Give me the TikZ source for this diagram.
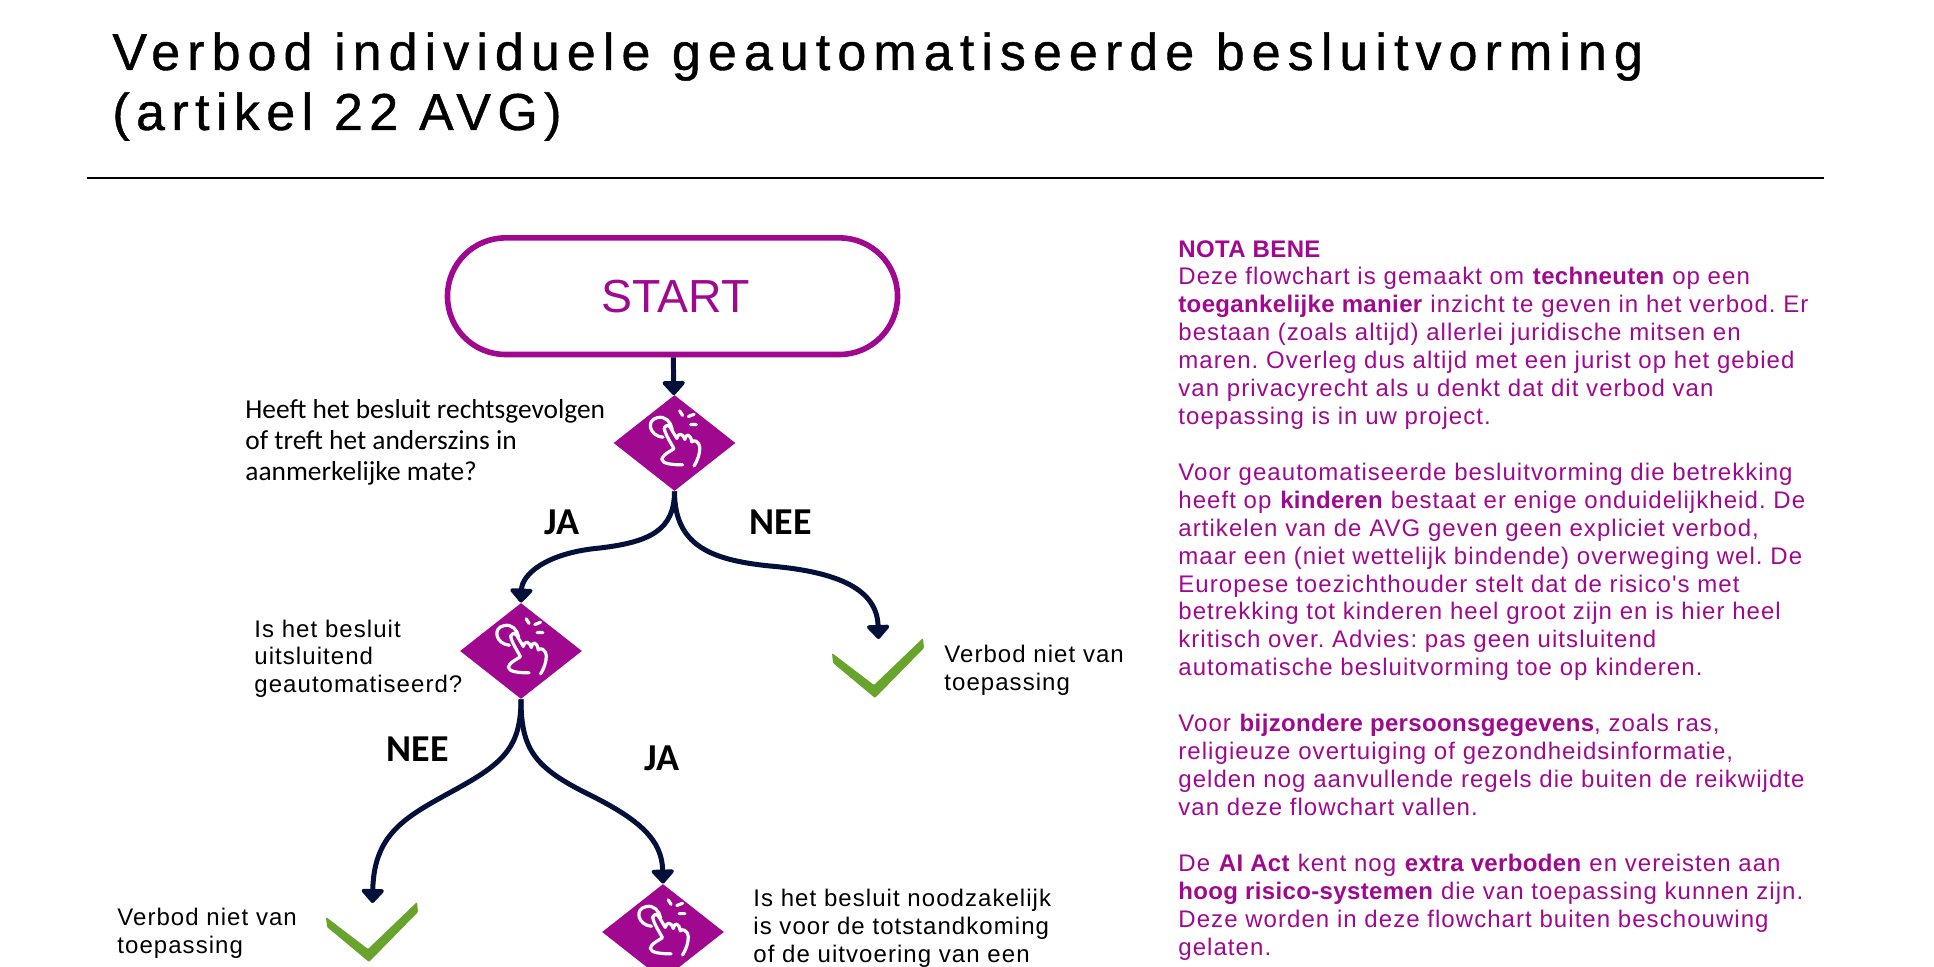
\documentclass[tikz,border=0pt]{standalone}
\usepackage{fontspec}
\setmainfont{Liberation Sans}
\newfontfamily\chartfont{Carlito}
\newfontfamily\notefont[LetterSpace=4.4, BoldFeatures={LetterSpace=1.5}]{Liberation Sans}
\newfontfamily\titlefont[LetterSpace=13.6, FakeBold=0.8]{Liberation Sans}
\usetikzlibrary{arrows.meta, shapes.geometric}
\definecolor{notecolor}{RGB}{160,8,144}
\definecolor{edgecolor}{RGB}{3,16,58}
\definecolor{okcolor}{RGB}{104,163,44}
\tikzset{
    startbox/.style={rectangle, rounded corners=29pt, draw=notecolor, line width=2.8pt,
        minimum width=225pt, minimum height=58.3pt, inner sep=0pt,
        text=notecolor, font=\fontsize{23.2}{28}\selectfont},
    choice/.style={diamond, fill=notecolor, inner sep=0pt, aspect=1.27,
        minimum width=61pt, minimum height=48pt},
    edge/.style={-{Triangle[width=13pt, length=7.5pt, round]}, line width=2.5pt, edgecolor},
    question/.style={anchor=base west, align=left, inner sep=0pt, text=black,
        font=\chartfont\fontsize{13.7}{15.5}\selectfont},
    verdict/.style={question, font=\notefont\frenchspacing\fontsize{12}{14}\selectfont},
    answer/.style={anchor=base, inner sep=0pt, text=black,
        font=\chartfont\bfseries\fontsize{19}{20}\selectfont},
    note/.style={anchor=base west, align=left, inner sep=0pt, text=notecolor,
        font=\notefont\frenchspacing\fontsize{12}{13.96}\selectfont},
    hand/.pic={
        \begin{scope}[scale=1.15, xshift=1pt, line width=1.6pt, line cap=round, line join=round]
        \draw[white]
            (-12,-5) .. controls (-24,-6) and (-27,-20) .. (-17,-22)
            .. controls (-10,-24) and (-5,-18) .. (-4,-12);
        \draw[white]
            (-11,-13) .. controls (-10,-7) and (-5,0) .. (-2.5,5)
            .. controls (-7,8) and (-12,10) .. (-13,14)
            .. controls (-13,18) and (-4,19) .. (5,19);
        \draw[white]
            (-11,-13) .. controls (-9,-16) and (-7,-16) .. (-6,-14) -- (0,-4)
            .. controls (1,-9) and (5,-9) .. (7,-3)
            .. controls (8,-9) and (12,-8) .. (13,-1)
            .. controls (15,-3) and (19,-2) .. (20,4)
            .. controls (20,10) and (18,15) .. (15,20);
        \draw[white]
            (2.5,-28) -- (5,-24) (10,-23) -- (15,-25) (12,-16) -- (17,-16);
        \end{scope}
    },
    okmark/.pic={
        \fill[okcolor, rounded corners=0.5pt] (-43,14) -- (-42,24) -- (0,59) -- (49,9) -- (48,-1) -- (-1,46) -- cycle;
    }
}

\begin{document}
\begin{tikzpicture}[x=0.5pt, y=-0.5pt]
\useasboundingbox (0,0) rectangle (1934,967);
\clip (0,0) rectangle (1934,967);

% Title
\node[anchor=base west, align=left, inner sep=0pt, font=\titlefont\fontsize{26}{30}\selectfont]
    (title) at (112,130) {Verbod individuele geautomatiseerde besluitvorming\\\addfontfeature{LetterSpace=12.3}(artikel 22 AVG)};
\coordinate (ruleL) at (87,178);
\coordinate (ruleR) at (1824,178);
\draw[line width=1.25pt, black] (ruleL)--(ruleR);

% Flowchart
\node[startbox] (start) at (672.5,296.2) {\hspace*{3pt}START};
\node[choice] (c1) at (674.5,443) {};
\node[choice] (c2) at (521,651) {};
\node[choice] (c3) at (663,932) {};
\pic at (c1) {hand};
\pic at (c2) {hand};
\pic at (c3) {hand};
\coordinate (ok1) at (878.5,639);
\coordinate (ok2) at (372.5,903);
\pic at (875,639) {okmark};
\pic at (369,903) {okmark};

\draw[edge] (start)--(c1);
\draw[edge] (c1.south) .. controls (674.5,530) and (650,542) .. (600,548)
    .. controls (545,553) and (522,575) .. (c2.north);
\draw[edge] (c1.south) .. controls (674.5,545) and (710,560) .. (770,566)
    .. controls (840,572) and (877,590) .. (ok1);
\draw[edge] (c2.south) .. controls (521,745) and (505,762) .. (460,787)
    .. controls (410,815) and (374,830) .. (ok2);
\draw[edge] (c2.south) .. controls (521,750) and (535,768) .. (590,795)
    .. controls (640,820) and (662,840) .. (c3.north);

% Labels
\node[question] (q1) at (245,481) {Heeft het besluit rechtsgevolgen\\of treft het anderszins in\\aanmerkelijke mate?};
\node[verdict] (q2) at (254,693) {Is het besluit\\uitsluitend\\geautomatiseerd?};
\node[verdict] (q3) at (753,962) {Is het besluit noodzakelijk\\is voor de totstandkoming\\of de uitvoering van een};
\node[verdict] (v1) at (944,691) {Verbod niet van\\toepassing};
\node[verdict] (v2) at (117,953) {Verbod niet van\\toepassing};
\node[answer] at (562,535) (a1) {JA};
\node[answer] at (781,535) (a2) {NEE};
\node[answer] at (418,762) (a3) {NEE};
\node[answer] at (661.6,770) (a4) {JA};

% Note
\node[note] (note) at (1178,955) {\textbf{NOTA BENE}\\
Deze flowchart is gemaakt om \textbf{techneuten} op een\\
\textbf{toegankelijke manier} inzicht te geven in het verbod. Er\\
bestaan (zoals altijd) allerlei juridische mitsen en\\
maren. Overleg dus altijd met een jurist op het gebied\\
van privacyrecht als u denkt dat dit verbod van\\
toepassing is in uw project.\\
\\
Voor geautomatiseerde besluitvorming die betrekking\\
heeft op \textbf{kinderen} bestaat er enige onduidelijkheid. De\\
artikelen van de AVG geven geen expliciet verbod,\\
maar een (niet wettelijk bindende) overweging wel. De\\
Europese toezichthouder stelt dat de risico's met\\
betrekking tot kinderen heel groot zijn en is hier heel\\
kritisch over. Advies: pas geen uitsluitend\\
automatische besluitvorming toe op kinderen.\\
\\
Voor \textbf{bijzondere persoonsgegevens}, zoals ras,\\
religieuze overtuiging of gezondheidsinformatie,\\
gelden nog aanvullende regels die buiten de reikwijdte\\
van deze flowchart vallen.\\
\\
De \textbf{AI Act} kent nog \textbf{extra verboden} en vereisten aan\\
\textbf{hoog risico-systemen} die van toepassing kunnen zijn.\\
Deze worden in deze flowchart buiten beschouwing\\
gelaten.};

\end{tikzpicture}
\end{document}
